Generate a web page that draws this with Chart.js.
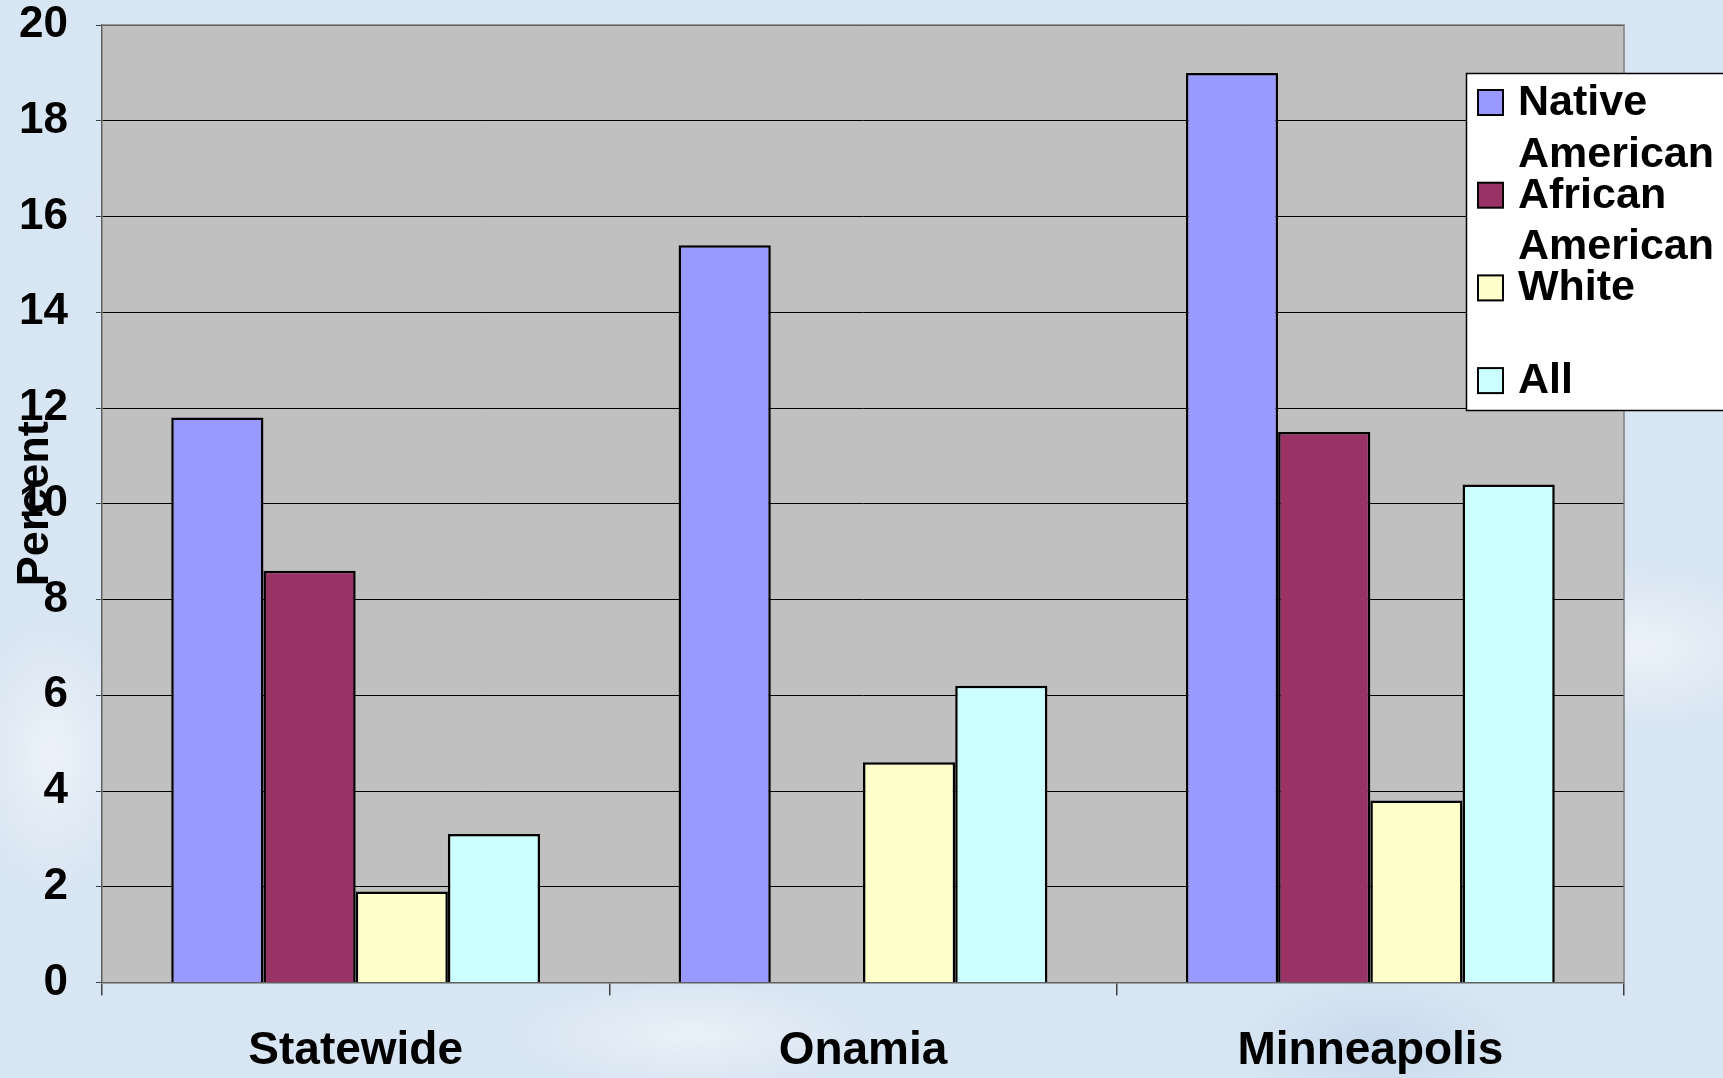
<!DOCTYPE html>
<html>
<head>
<meta charset="utf-8">
<script src="https://cdn.jsdelivr.net/npm/chart.js@4.4.1/dist/chart.umd.min.js"></script>
<style>
html, body { margin: 0; padding: 0; width: 1723px; height: 1078px; overflow: hidden; }
body {
    background-color: #d8e5f2;
    background-image:
        radial-gradient(ellipse 180px 90px at 12% 20%, rgba(255,255,255,0.55), rgba(255,255,255,0) 70%),
        radial-gradient(ellipse 220px 120px at 95% 60%, rgba(255,255,255,0.5), rgba(255,255,255,0) 70%),
        radial-gradient(ellipse 260px 80px at 40% 96%, rgba(255,255,255,0.45), rgba(255,255,255,0) 70%),
        radial-gradient(ellipse 200px 100px at 80% 97%, rgba(190,210,235,0.6), rgba(190,210,235,0) 70%),
        radial-gradient(ellipse 120px 200px at 3% 70%, rgba(255,255,255,0.5), rgba(255,255,255,0) 70%);
}
.box { position: relative; width: 1723px; height: 1078px; }
</style>
</head>
<body>
<div class="box"><canvas id="bars"></canvas></div>
<script>
const categories = ['Statewide', 'Onamia', 'Minneapolis']
const seriesNames = ['Native American', 'African American', 'White', 'All']
const nativeAmerican = [11.8, 15.4, 19.0]
const africanAmerican = [8.6, null, 11.5]
const white = [1.9, 4.6, 3.8]
const all = [3.1, 6.2, 10.4]
const seriesValues = [nativeAmerican, africanAmerican, white, all]
const seriesColors = ['#9999ff', '#993366', '#ffffcc', '#ccffff']
const yMin = 0
const yMax = 20
const yStep = 2
const yTitle = 'Percent'

// grey plot area behind the bars
const plotBackground = {
    id: 'plotBackground',
    beforeDraw(chart) {
        const { ctx, chartArea: a } = chart
        ctx.save()
        ctx.fillStyle = '#c0c0c0'
        ctx.fillRect(a.left, a.top, a.right - a.left, a.bottom - a.top)
        ctx.restore()
    },
    afterDatasetsDraw(chart) {
        const { ctx, chartArea: a } = chart
        ctx.save()
        ctx.strokeStyle = '#808080'
        ctx.lineWidth = 1.5
        ctx.beginPath()
        ctx.moveTo(a.left, a.top)
        ctx.lineTo(a.right, a.top)
        ctx.lineTo(a.right, a.bottom)
        ctx.stroke()
        ctx.restore()
    }
}

// y title drawn over the tick labels, like the original
const axisTitle = {
    id: 'axisTitle',
    afterDraw(chart) {
        const { ctx, chartArea: a } = chart
        ctx.save()
        ctx.translate(48, (a.top + a.bottom) / 2)
        ctx.rotate(-Math.PI / 2)
        ctx.font = 'bold 45px "Liberation Sans", Arial, sans-serif'
        ctx.fillStyle = '#000'
        ctx.textAlign = 'center'
        ctx.textBaseline = 'alphabetic'
        ctx.fillText(yTitle, 0, 0)
        ctx.restore()
    }
}

// boxed legend with two-line entries
const boxLegend = {
    id: 'boxLegend',
    afterDraw(chart) {
        const { ctx } = chart
        const left = 1466.5, top = 73.5, height = 337
        ctx.save()
        ctx.fillStyle = '#fff'
        ctx.fillRect(left, top, 400, height)
        ctx.strokeStyle = '#000'
        ctx.lineWidth = 1.5
        ctx.strokeRect(left, top, 400, height)
        ctx.font = 'bold 43px "Liberation Sans", Arial, sans-serif'
        ctx.textBaseline = 'alphabetic'
        chart.data.datasets.forEach((ds, i) => {
            const base = 115 + i * 92.7
            ctx.fillStyle = ds.backgroundColor
            ctx.fillRect(1478, base - 25, 25, 25)
            ctx.strokeStyle = '#000'
            ctx.lineWidth = 2
            ctx.strokeRect(1478, base - 25, 25, 25)
            ctx.fillStyle = '#000'
            const words = ds.label.split(' ')
            let lines = [], cur = ''
            words.forEach(w => {
                const t = cur ? cur + ' ' + w : w
                if (cur && ctx.measureText(t).width > 215) { lines.push(cur); cur = w } else cur = t
            })
            lines.push(cur)
            lines.forEach((l, k) => ctx.fillText(l, 1518, base + k * 51.7))
        })
        ctx.restore()
    }
}

new Chart(document.getElementById('bars'), {
    type: 'bar',
    data: {
        labels: categories,
        datasets: seriesNames.map((name, i) => ({
            label: name,
            data: seriesValues[i],
            backgroundColor: seriesColors[i],
            borderColor: '#000',
            borderWidth: 2.5,
            categoryPercentage: 0.727,
            barPercentage: 1.0,
        }))
    },
    options: {
        responsive: true,
        maintainAspectRatio: false,
        animation: false,
        layout: { padding: { top: 25, right: 99, left: 0, bottom: 0 } },
        plugins: {
            legend: { display: false },
            tooltip: { enabled: false },
            title: { display: false }
        },
        scales: {
            x: {
                afterFit: (s) => { s.height = 95.5; s.paddingLeft = 0; s.paddingRight = 0 },
                grid: {
                    offset: true,
                    drawOnChartArea: false,
                    tickLength: 13,
                    color: '#404040',
                    lineWidth: 1.5
                },
                border: { color: '#606060', width: 1.5 },
                ticks: {
                    color: '#000',
                    padding: 28,
                    font: { family: '"Liberation Sans", Arial, sans-serif', size: 46, weight: 'bold' }
                }
            },
            y: {
                min: yMin,
                max: yMax,
                afterFit: (s) => { s.width = 102; s.paddingTop = 0; s.paddingBottom = 0 },
                grid: {
                    color: '#000',
                    lineWidth: 1,
                    tickLength: 6,
                    tickColor: '#404040'
                },
                border: { color: '#606060', width: 1.5 },
                ticks: {
                    stepSize: yStep,
                    color: '#000',
                    padding: 28,
                    font: { family: '"Liberation Sans", Arial, sans-serif', size: 44, weight: 'bold' }
                }
            }
        }
    },
    plugins: [plotBackground, axisTitle, boxLegend]
})
</script>
</body>
</html>
